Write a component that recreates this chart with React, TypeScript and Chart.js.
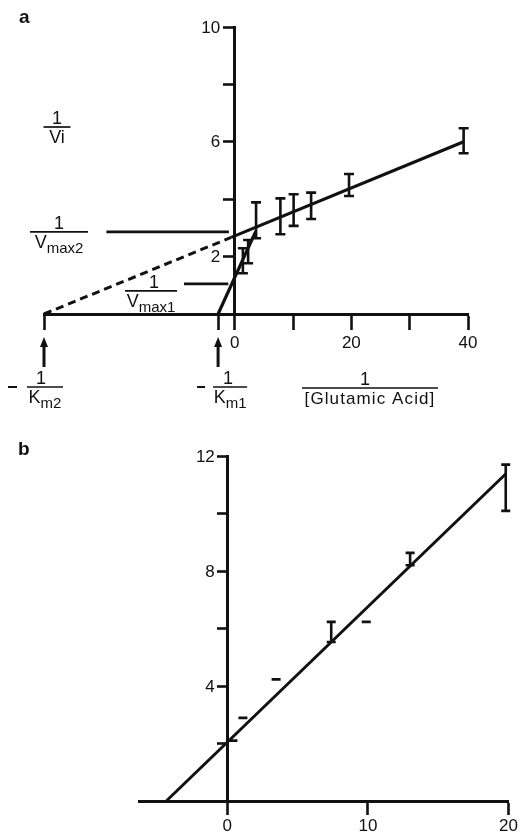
import React, { useEffect, useRef } from 'react';
import { Chart, registerables } from 'chart.js';

Chart.register(...registerables);

const INK = '#111111';
const FONT = "'Liberation Sans', Arial, Helvetica, sans-serif";

// ---------- Panel a data ----------
const aXTicks = [-32.7, -2.85, 0, 10, 20, 30, 40];
const aXLabels = [0, 20, 40];
const aYTicks = [2, 4, 6, 8, 10];
const aYLabels = [2, 6, 10];
const aErrX = [1.4, 2.3, 3.66, 7.83, 10.1, 13.1, 19.6, 39.25];
const aErrLow = [1.42, 1.77, 2.64, 2.78, 3.07, 3.31, 4.11, 5.6];
const aErrHigh = [2.29, 2.58, 3.89, 4.03, 4.17, 4.23, 4.88, 6.47];
const aDashX = [-32.7, -0.6];
const aDashY = [0, 2.67];
const aFitX = [-0.6, 39.25];
const aFitY = [2.67, 6.0];
const aSteepX = [-2.85, 3.6];
const aSteepY = [0, 2.88];
const aVmax2X = [-22, -1.0];
const aVmax2Y = [2.86, 2.86];
const aVmax1X = [-8.7, -1.1];
const aVmax1Y = [1.05, 1.05];

// ---------- Panel b data ----------
const bXTicks = [0, 10, 20];
const bYTicks = [2, 4, 6, 8, 10, 12];
const bYLabels = [4, 8, 12];
const bErrX = [0.4, 1.11, 3.47, 7.39, 9.88, 13.0, 19.8];
const bErrLow = [2.1, 2.89, 4.23, 5.53, 6.23, 8.2, 10.09];
const bErrHigh = [2.1, 2.89, 4.23, 6.23, 6.23, 8.63, 11.7];
const bFitX = [-4.34, 19.83];
const bFitY = [0, 11.39];

const pts = (xs: number[], ys: number[]) => xs.map((x, i) => ({ x, y: ys[i] }));

function errorBarPlugin(xs: number[], lows: number[], highs: number[], capW: number) {
  return {
    id: 'errbars',
    afterDatasetsDraw(chart: any) {
      const { ctx, scales } = chart;
      const sx = scales.x;
      const sy = scales.y;
      ctx.save();
      ctx.strokeStyle = INK;
      ctx.lineWidth = 2.6;
      xs.forEach((xv, i) => {
        const px = sx.getPixelForValue(xv);
        const pl = sy.getPixelForValue(lows[i]);
        const ph = sy.getPixelForValue(highs[i]);
        ctx.beginPath();
        if (lows[i] !== highs[i]) {
          ctx.moveTo(px, pl);
          ctx.lineTo(px, ph);
        }
        ctx.moveTo(px - capW / 2, pl);
        ctx.lineTo(px + capW / 2, pl);
        ctx.moveTo(px - capW / 2, ph);
        ctx.lineTo(px + capW / 2, ph);
        ctx.stroke();
      });
      ctx.restore();
    },
  };
}

// y tick labels drawn left of the crossing axis, from the y scale
function yLabelPlugin(labels: number[], tl: number, gap: number) {
  return {
    id: 'ylabels',
    afterDraw(chart: any) {
      const { ctx, scales } = chart;
      const ax = scales.x.getPixelForValue(0);
      ctx.save();
      ctx.fillStyle = INK;
      ctx.font = `17px ${FONT}`;
      ctx.textAlign = 'right';
      ctx.textBaseline = 'middle';
      labels.forEach((v) => {
        ctx.fillText(String(v), ax - 1.5 - tl - gap, scales.y.getPixelForValue(v) + 1);
      });
      ctx.restore();
    },
  };
}

function frac(
  ctx: CanvasRenderingContext2D,
  cx: number,
  ly: number,
  lw: number,
  main: string,
  sub: string,
  numDx = 0,
  spacing = 0,
  mainSize = 18
) {
  ctx.fillStyle = INK;
  ctx.strokeStyle = INK;
  ctx.textBaseline = 'alphabetic';
  ctx.font = `18px ${FONT}`;
  ctx.textAlign = 'center';
  ctx.fillText('1', cx + numDx, ly - 3);
  ctx.lineWidth = 1.7;
  ctx.beginPath();
  ctx.moveTo(cx - lw / 2, ly);
  ctx.lineTo(cx + lw / 2, ly);
  ctx.stroke();
  (ctx as any).letterSpacing = `${spacing}px`;
  ctx.font = `${mainSize}px ${FONT}`;
  const wm = ctx.measureText(main).width;
  ctx.font = `15px ${FONT}`;
  const ws = sub ? ctx.measureText(sub).width : 0;
  const start = cx - (wm + ws) / 2;
  ctx.textAlign = 'left';
  ctx.font = `${mainSize}px ${FONT}`;
  ctx.fillText(main, start, ly + 16);
  if (sub) {
    ctx.font = `15px ${FONT}`;
    ctx.fillText(sub, start + wm, ly + 21);
  }
  (ctx as any).letterSpacing = '0px';
}

function arrow(ctx: CanvasRenderingContext2D, x: number, tip: number, tail: number) {
  ctx.fillStyle = INK;
  ctx.strokeStyle = INK;
  ctx.lineWidth = 3;
  ctx.beginPath();
  ctx.moveTo(x, tip + 6);
  ctx.lineTo(x, tail);
  ctx.stroke();
  ctx.beginPath();
  ctx.moveTo(x, tip);
  ctx.lineTo(x - 4, tip + 10);
  ctx.lineTo(x + 4, tip + 10);
  ctx.closePath();
  ctx.fill();
}

const annotA = {
  id: 'annotA',
  afterDraw(chart: any) {
    const { ctx, scales } = chart;
    const sx = scales.x;
    const sy = scales.y;
    ctx.save();
    ctx.fillStyle = INK;
    ctx.font = `bold 19px ${FONT}`;
    ctx.textAlign = 'left';
    ctx.textBaseline = 'alphabetic';
    ctx.fillText('a', 19, 23);

    frac(ctx, 57, 127, 27, 'Vi', '');
    frac(ctx, 59, sy.getPixelForValue(aVmax2Y[0]), 58, 'V', 'max2', 0);
    frac(ctx, 151, sy.getPixelForValue(aVmax1Y[0]) + 7, 52, 'V', 'max1', 3);

    const km2 = sx.getPixelForValue(aXTicks[0]);
    const km1 = sx.getPixelForValue(aXTicks[1]);
    arrow(ctx, km2, 337, 367);
    arrow(ctx, km1, 337, 367);
    frac(ctx, km2 + 1, 387, 36, 'K', 'm2', -4);
    frac(ctx, km1 + 12, 387, 34, 'K', 'm1', -2);
    ctx.fillStyle = INK;
    ctx.fillRect(km2 - 36, 386, 9, 2);
    ctx.fillRect(km1 - 21, 386, 8, 2);
    frac(ctx, 370, 388, 136, '[Glutamic Acid]', '', -5, 1.1, 17);
    ctx.restore();
  },
};

const annotB = {
  id: 'annotB',
  afterDraw(chart: any) {
    const { ctx } = chart;
    ctx.save();
    ctx.fillStyle = INK;
    ctx.font = `bold 19px ${FONT}`;
    ctx.textAlign = 'left';
    ctx.textBaseline = 'alphabetic';
    ctx.fillText('b', 18, 35);
    ctx.restore();
  },
};

const lineDs = (data: any[], width = 3, dash: number[] = []) => ({
  data,
  showLine: true,
  borderColor: INK,
  borderWidth: width,
  borderDash: dash,
  pointRadius: 0,
  fill: false,
  clip: false as any,
  tension: 0,
});

function axisX(min: number, max: number, ticks: number[], labels: number[], tl: number, pad: number) {
  return {
    type: 'linear',
    position: { y: 0 },
    min,
    max,
    afterBuildTicks: (s: any) => {
      s.ticks = ticks.map((v) => ({ value: v }));
    },
    ticks: {
      autoSkip: false,
      maxRotation: 0,
      padding: pad,
      color: INK,
      font: { family: FONT, size: 17 },
      callback: (v: any) => (labels.includes(v) ? String(v) : ''),
    },
    grid: { drawOnChartArea: false, drawTicks: true, tickLength: tl, tickWidth: 2.6, tickColor: INK },
    border: { display: true, width: 3, color: INK },
  };
}

function axisY(min: number, max: number, ticks: number[], tl: number) {
  return {
    type: 'linear',
    position: { x: 0 },
    min,
    max,
    afterBuildTicks: (s: any) => {
      s.ticks = ticks.map((v) => ({ value: v }));
    },
    ticks: {
      autoSkip: false,
      color: INK,
      font: { family: FONT, size: 17 },
      callback: () => '',
    },
    grid: { drawOnChartArea: false, drawTicks: true, tickLength: tl, tickWidth: 2.6, tickColor: INK },
    border: { display: true, width: 3, color: INK },
  };
}

export default function App() {
  const refA = useRef<HTMLCanvasElement>(null);
  const refB = useRef<HTMLCanvasElement>(null);

  useEffect(() => {
    const chartA = new Chart(refA.current!, {
      type: 'scatter',
      data: {
        datasets: [
          lineDs(pts(aDashX, aDashY), 3, [8, 5]),
          lineDs(pts(aFitX, aFitY), 3.2),
          lineDs(pts(aSteepX, aSteepY), 3.2),
          lineDs(pts(aVmax2X, aVmax2Y), 2.6),
          lineDs(pts(aVmax1X, aVmax1Y), 2.6),
        ] as any,
      },
      options: {
        responsive: false,
        animation: false,
        layout: { padding: { left: 44, right: 53, top: 27, bottom: 106 } },
        plugins: { legend: { display: false }, tooltip: { enabled: false } },
        scales: {
          x: axisX(aXTicks[0], 40, aXTicks, aXLabels, 14, 5) as any,
          y: axisY(0, 10, aYTicks, 10) as any,
        },
      } as any,
      plugins: [errorBarPlugin(aErrX, aErrLow, aErrHigh, 10), yLabelPlugin(aYLabels, 10, 3), annotA],
    });

    const chartB = new Chart(refB.current!, {
      type: 'scatter',
      data: {
        datasets: [lineDs(pts(bFitX, bFitY), 3)] as any,
      },
      options: {
        responsive: false,
        animation: false,
        layout: { padding: { left: 139, right: 12, top: 36, bottom: 32 } },
        plugins: { legend: { display: false }, tooltip: { enabled: false } },
        scales: {
          x: axisX(-6.28, 20, bXTicks, bXTicks, 12, 3) as any,
          y: axisY(0, 12, bYTicks, 9) as any,
        },
      } as any,
      plugins: [errorBarPlugin(bErrX, bErrLow, bErrHigh, 9), yLabelPlugin(bYLabels, 9, 2), annotB],
    });

    return () => {
      chartA.destroy();
      chartB.destroy();
    };
  }, []);

  return (
    <div style={{ position: 'absolute', left: 0, top: 0, width: 521, height: 833, background: '#fff' }}>
      <canvas ref={refA} width={521} height={420} style={{ display: 'block', width: 521, height: 420 }} />
      <canvas ref={refB} width={521} height={413} style={{ display: 'block', width: 521, height: 413 }} />
    </div>
  );
}
